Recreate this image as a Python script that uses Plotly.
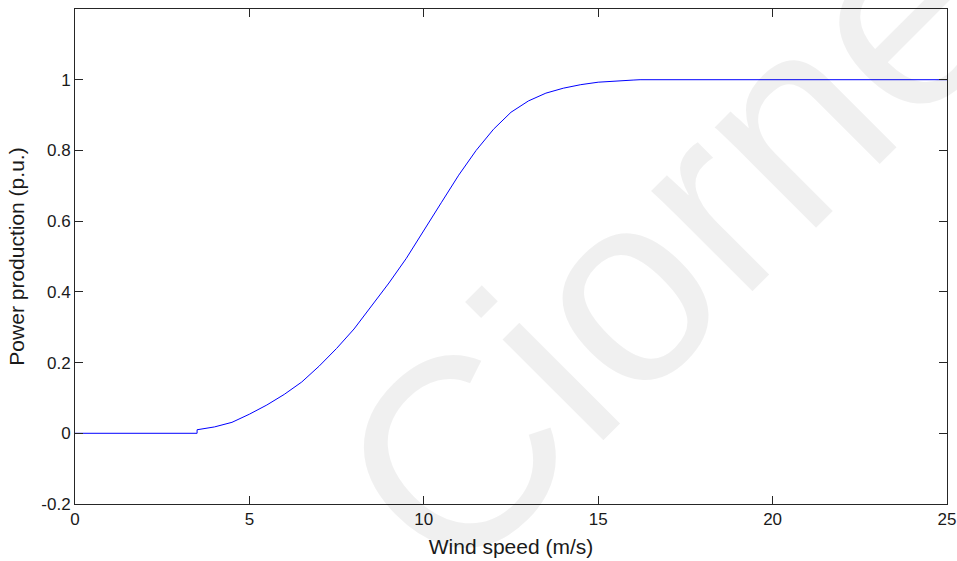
import plotly.graph_objects as go

# Wind turbine power curve: output in per-unit vs. wind speed
wind_speed = [0, 3.5, 3.5, 4.0, 4.5, 5.0, 5.5, 6.0, 6.5, 7.0, 7.5, 8.0, 8.5, 9.0,
              9.5, 10.0, 10.5, 11.0, 11.5, 12.0, 12.5, 13.0, 13.5, 14.0, 14.5,
              15.0, 15.5, 16.0, 16.2, 25.0]
power_pu = [0.0, 0.0, 0.010, 0.018, 0.031, 0.054, 0.080, 0.110, 0.145, 0.190,
            0.240, 0.295, 0.360, 0.425, 0.495, 0.575, 0.652, 0.730, 0.800,
            0.860, 0.908, 0.940, 0.962, 0.976, 0.986, 0.993, 0.997, 0.999,
            1.0, 1.0]

x_ticks = [0, 5, 10, 15, 20, 25]
y_ticks = [-0.2, 0, 0.2, 0.4, 0.6, 0.8, 1]
y_tick_text = ["-0.2", "0", "0.2", "0.4", "0.6", "0.8", "1"]

font_family = "Liberation Sans, Arial, sans-serif"
axis_color = "#262626"

fig = go.Figure()
fig.add_trace(go.Scatter(
    x=wind_speed, y=power_pu, mode="lines",
    line=dict(color="#0000ff", width=1),
    showlegend=False, hoverinfo="skip",
))

axis_common = dict(
    showgrid=False, zeroline=False, showline=True, linecolor=axis_color,
    linewidth=1, mirror="ticks", ticks="inside", ticklen=8, tickwidth=1,
    tickcolor=axis_color, automargin=False,
    tickfont=dict(family=font_family, size=17, color="#1a1a1a"),
)

fig.update_layout(
    template="none",
    width=957, height=561,
    margin=dict(l=75, r=10, t=9, b=57),
    paper_bgcolor="white", plot_bgcolor="white",
    xaxis=dict(range=[0, 25], tickvals=x_ticks, **axis_common,
               title=dict(text="Wind speed (m/s)", standoff=10,
                          font=dict(family=font_family, size=21, color="#1a1a1a"))),
    yaxis=dict(range=[-0.2, 1.2], tickvals=y_ticks, ticktext=y_tick_text,
               **axis_common,
               title=dict(text="Power production (p.u.)", standoff=10,
                          font=dict(family=font_family, size=21, color="#1a1a1a"))),
    annotations=[dict(
        text="Ciorne", x=17.0, y=0.537, xref="x", yref="y",
        showarrow=False, textangle=-45,
        font=dict(family=font_family, size=270, color="rgba(0,0,0,0.06)"),
    )],
)

fig.write_html("out.html")
